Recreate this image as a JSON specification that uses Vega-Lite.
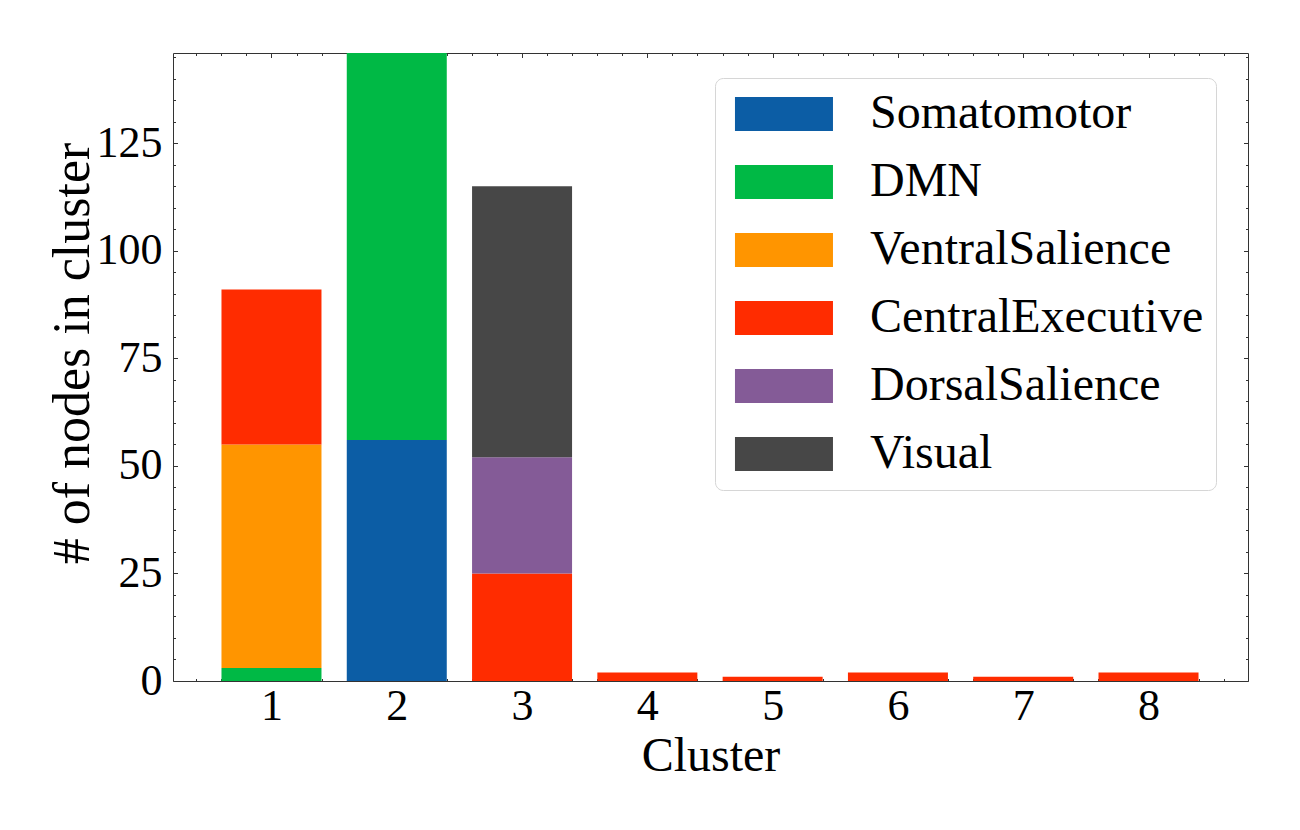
{
  "$schema": "https://vega.github.io/schema/vega-lite/v6.json",
  "width": 1075,
  "height": 628,
  "autosize": {"type": "none"},
  "padding": {"left": 173, "top": 53, "right": 52, "bottom": 149},
  "background": "white",
  "config": {
    "view": {"stroke": null},
    "font": "Liberation Serif",
    "axis": {"grid": false, "domainColor": "#333333", "tickColor": "#333333", "domainWidth": 1, "tickWidth": 1, "labelFont": "Liberation Serif", "titleFont": "Liberation Serif", "labelColor": "black", "titleColor": "black", "titleFontWeight": "normal"}
  },
  "data": {
    "values": [
      {"cluster": 1, "network": "DMN", "count": 3},
      {"cluster": 1, "network": "VentralSalience", "count": 52},
      {"cluster": 1, "network": "CentralExecutive", "count": 36},
      {"cluster": 2, "network": "Somatomotor", "count": 56},
      {"cluster": 2, "network": "DMN", "count": 90},
      {"cluster": 3, "network": "CentralExecutive", "count": 25},
      {"cluster": 3, "network": "DorsalSalience", "count": 27},
      {"cluster": 3, "network": "Visual", "count": 63},
      {"cluster": 4, "network": "CentralExecutive", "count": 2},
      {"cluster": 5, "network": "CentralExecutive", "count": 1},
      {"cluster": 6, "network": "CentralExecutive", "count": 2},
      {"cluster": 7, "network": "CentralExecutive", "count": 1},
      {"cluster": 8, "network": "CentralExecutive", "count": 2}
    ]
  },
  "transform": [
    {"calculate": "indexof(['Somatomotor', 'DMN', 'VentralSalience', 'CentralExecutive', 'DorsalSalience', 'Visual'], datum.network)", "as": "stackOrder"}
  ],
  "resolve": {"axis": {"x": "independent", "y": "independent"}},
  "layer": [
    {
      "mark": {"type": "bar", "size": 100, "clip": true},
      "encoding": {
        "x": {
          "field": "cluster", "type": "quantitative",
          "scale": {"domain": [0.214, 8.794], "nice": false, "zero": false, "padding": 0},
          "axis": {
            "orient": "bottom", "title": "Cluster", "titleFontSize": 48, "titlePadding": 2,
            "labelFontSize": 44, "labelPadding": 8,
            "values": [0.4,0.6,0.8,1,1.2,1.4,1.6,1.8,2,2.2,2.4,2.6,2.8,3,3.2,3.4,3.6,3.8,4,4.2,4.4,4.6,4.8,5,5.2,5.4,5.6,5.8,6,6.2,6.4,6.6,6.8,7,7.2,7.4,7.6,7.8,8,8.2,8.4,8.6],
            "labelExpr": "abs(datum.value - round(datum.value)) < 0.01 ? format(datum.value, 'd') : ''",
            "tickSize": {"condition": {"test": "abs(datum.value - round(datum.value)) < 0.01", "value": -4.5}, "value": -2.5},
            "labelFlush": false, "labelOverlap": false
          }
        },
        "y": {
          "field": "count", "type": "quantitative", "stack": "zero",
          "scale": {"domain": [0, 146], "nice": false, "zero": true},
          "axis": {
            "orient": "left", "title": "# of nodes in cluster", "titleFontSize": 52, "titlePadding": -3, "titleY": 300,
            "labelFontSize": 44, "labelPadding": 15.5,
            "values": [0,5,10,15,20,25,30,35,40,45,50,55,60,65,70,75,80,85,90,95,100,105,110,115,120,125,130,135,140,145],
            "labelExpr": "datum.value % 25 === 0 ? format(datum.value, 'd') : ''",
            "tickSize": {"condition": {"test": "datum.value % 25 === 0", "value": -4.5}, "value": -2.5},
            "labelFlush": false, "labelOverlap": false
          }
        },
        "order": {"field": "stackOrder", "type": "quantitative", "sort": "ascending"},
        "color": {
          "field": "network", "type": "nominal",
          "sort": ["Somatomotor", "DMN", "VentralSalience", "CentralExecutive", "DorsalSalience", "Visual"],
          "scale": {
            "domain": ["Somatomotor", "DMN", "VentralSalience", "CentralExecutive", "DorsalSalience", "Visual"],
            "range": ["#0C5DA5", "#00B945", "#FF9500", "#FF2C00", "#845B97", "#474747"]
          },
          "legend": {
            "title": null, "orient": "none", "legendX": 542, "legendY": 25,
            "fillColor": "white", "strokeColor": "#d6d6d6", "cornerRadius": 8, "padding": 12,
            "labelFont": "Liberation Serif", "labelFontSize": 48, "labelColor": "black",
            "symbolType": "M-0.943,-1L4.822,-1L4.822,1L-0.943,1Z", "symbolSize": 1156,
            "symbolStrokeWidth": 0, "symbolOpacity": 1,
            "labelOffset": 95, "rowPadding": 20, "labelLimit": 600
          }
        }
      }
    },
    {
      "mark": {"type": "bar", "size": 100, "opacity": 0},
      "encoding": {
        "x": {
          "field": "cluster", "type": "quantitative",
          "axis": {
            "orient": "top", "title": null, "labels": false,
            "values": [0.4,0.6,0.8,1,1.2,1.4,1.6,1.8,2,2.2,2.4,2.6,2.8,3,3.2,3.4,3.6,3.8,4,4.2,4.4,4.6,4.8,5,5.2,5.4,5.6,5.8,6,6.2,6.4,6.6,6.8,7,7.2,7.4,7.6,7.8,8,8.2,8.4,8.6],
            "tickSize": {"condition": {"test": "abs(datum.value - round(datum.value)) < 0.01", "value": -4.5}, "value": -2.5}
          }
        },
        "y": {
          "field": "count", "type": "quantitative", "stack": "zero",
          "axis": {
            "orient": "right", "title": null, "labels": false,
            "values": [0,5,10,15,20,25,30,35,40,45,50,55,60,65,70,75,80,85,90,95,100,105,110,115,120,125,130,135,140,145],
            "tickSize": {"condition": {"test": "datum.value % 25 === 0", "value": -4.5}, "value": -2.5}
          }
        },
        "order": {"field": "stackOrder", "type": "quantitative", "sort": "ascending"}
      }
    }
  ]
}
